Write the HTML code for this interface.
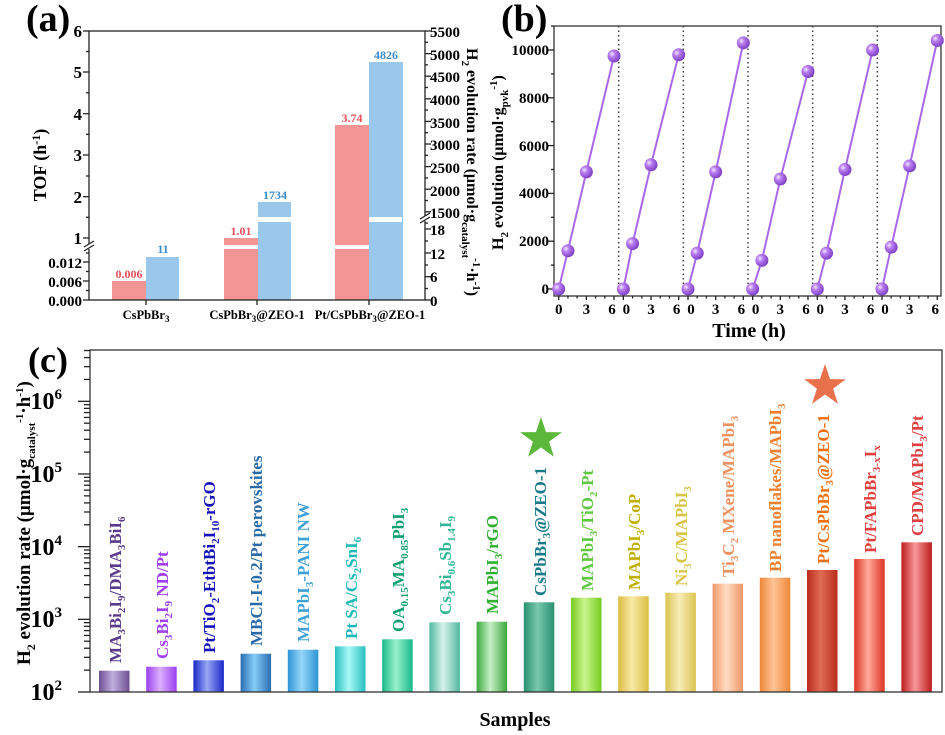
<!DOCTYPE html>
<html><head><meta charset="utf-8"><style>
html,body{margin:0;padding:0;background:#fff;}
svg{display:block;font-family:"Liberation Serif",serif;font-weight:bold;}
</style></head><body>
<svg id="s" width="945" height="735" viewBox="0 0 945 735" xmlns="http://www.w3.org/2000/svg">
<defs id="defs">
<radialGradient id="ball" cx="0.35" cy="0.35" r="0.7"><stop offset="0" stop-color="#f4e6ff"/><stop offset="0.35" stop-color="#b87cf0"/><stop offset="1" stop-color="#7a3cc0"/></radialGradient>
</defs>
<g id="g"></g>
<!-- Panel a text -->
<text x="26" y="31" font-size="38">(a)</text>
<g font-size="17" text-anchor="end">
<text x="82" y="37">6</text><text x="82" y="78">5</text><text x="82" y="120">4</text><text x="82" y="161">3</text><text x="82" y="203">2</text><text x="82" y="244">1</text>
<text x="82" y="268" font-size="15">0.012</text><text x="82" y="287" font-size="15">0.006</text><text x="82" y="306" font-size="15">0.000</text>
</g>
<g font-size="15">
<text x="430" y="37">5500</text><text x="430" y="60">5000</text><text x="430" y="82">4500</text><text x="430" y="105">4000</text><text x="430" y="128">3500</text><text x="430" y="150">3000</text><text x="430" y="173">2500</text><text x="430" y="196">2000</text><text x="430" y="218">1500</text>
<text x="430" y="235">18</text><text x="430" y="259">12</text><text x="430" y="282">6</text><text x="430" y="306">0</text>
</g>
<text transform="translate(46,165) rotate(-90)" font-size="18" text-anchor="middle">TOF (h<tspan font-size="12" dy="-6">-1</tspan><tspan dy="6">)</tspan></text>
<text transform="translate(467,48) rotate(90)" font-size="16">H<tspan font-size="11" dy="5">2</tspan><tspan dy="-5"> evolution rate (μmol·g</tspan><tspan font-size="11" dy="5">catalyst</tspan><tspan font-size="11" dy="-11">-1</tspan><tspan dy="6">·h</tspan><tspan font-size="11" dy="-6">-1</tspan><tspan dy="6">)</tspan></text>
<g font-size="12" text-anchor="middle">
<text x="129" y="278" fill="#e8505a">0.006</text><text x="163" y="253" fill="#3a8ccc">11</text>
<text x="241" y="235" fill="#e8505a">1.01</text><text x="275" y="199" fill="#3a8ccc">1734</text>
<text x="352" y="122" fill="#e8505a">3.74</text><text x="386" y="59" fill="#3a8ccc">4826</text>
</g>
<g font-size="12.5" text-anchor="middle">
<text x="146" y="319">CsPbBr<tspan font-size="9" dy="3">3</tspan></text>
<text x="257" y="319">CsPbBr<tspan font-size="9" dy="3">3</tspan><tspan dy="-3">@ZEO-1</tspan></text>
<text x="370" y="319">Pt/CsPbBr<tspan font-size="9" dy="3">3</tspan><tspan dy="-3">@ZEO-1</tspan></text>
</g>
<!-- Panel b text -->
<text x="501" y="31" font-size="38">(b)</text>
<g font-size="15" text-anchor="end">
<text x="549" y="55">10000</text><text x="549" y="103">8000</text><text x="549" y="151">6000</text><text x="549" y="198">4000</text><text x="549" y="246">2000</text><text x="549" y="294">0</text>
</g>
<g font-size="15" text-anchor="middle" id="bx"></g>
<text x="749" y="337" font-size="20" text-anchor="middle">Time (h)</text>
<text transform="translate(503,250) rotate(-90)" font-size="16">H<tspan font-size="11" dy="5">2</tspan><tspan dy="-5"> evolution (μmol·g</tspan><tspan font-size="11" dy="5">pvk</tspan><tspan font-size="11" dy="-11">-1</tspan><tspan dy="6">)</tspan></text>
<!-- Panel c text -->
<text x="28" y="372" font-size="36">(c)</text>
<g font-size="24" text-anchor="end">
<text x="62" y="700">10<tspan font-size="15" dy="-10">2</tspan></text>
<text x="62" y="627">10<tspan font-size="15" dy="-10">3</tspan></text>
<text x="62" y="555">10<tspan font-size="15" dy="-10">4</tspan></text>
<text x="62" y="482">10<tspan font-size="15" dy="-10">5</tspan></text>
<text x="62" y="409">10<tspan font-size="15" dy="-10">6</tspan></text>
</g>
<text transform="translate(30,665) rotate(-90)" font-size="19">H<tspan font-size="12" dy="5">2</tspan><tspan dy="-5"> evolution rate (μmol·g</tspan><tspan font-size="11" dy="5">catalyst</tspan><tspan font-size="11" dy="-12">-1</tspan><tspan dy="7">·h</tspan><tspan font-size="11" dy="-7">-1</tspan><tspan dy="7">)</tspan></text>
<text x="515" y="726" font-size="20" text-anchor="middle">Samples</text>
<g font-size="17" id="cl">
<text transform="translate(121,663) rotate(-90)" fill="#5a3a8a">MA<tspan font-size="11" dy="4">3</tspan><tspan dy="-4">Bi</tspan><tspan font-size="11" dy="4">2</tspan><tspan dy="-4">I</tspan><tspan font-size="11" dy="4">9</tspan><tspan dy="-4">/DMA</tspan><tspan font-size="11" dy="4">3</tspan><tspan dy="-4">BiI</tspan><tspan font-size="11" dy="4">6</tspan></text>
<text transform="translate(168,659) rotate(-90)" fill="#a040f0">Cs<tspan font-size="11" dy="4">3</tspan><tspan dy="-4">Bi</tspan><tspan font-size="11" dy="4">2</tspan><tspan dy="-4">I</tspan><tspan font-size="11" dy="4">9</tspan><tspan dy="-4"> ND/Pt</tspan></text>
<text transform="translate(215,653) rotate(-90)" fill="#1414b8">Pt/TiO<tspan font-size="11" dy="4">2</tspan><tspan dy="-4">-EtbtBi</tspan><tspan font-size="11" dy="4">2</tspan><tspan dy="-4">I</tspan><tspan font-size="11" dy="4">10</tspan><tspan dy="-4">-rGO</tspan></text>
<text transform="translate(262,646) rotate(-90)" fill="#2a6aa8">MBCl-I-0.2/Pt perovskites</text>
<text transform="translate(309,642) rotate(-90)" fill="#40a0d8">MAPbI<tspan font-size="11" dy="4">3</tspan><tspan dy="-4">-PANI NW</tspan></text>
<text transform="translate(357,639) rotate(-90)" fill="#20b8b8">Pt SA/Cs<tspan font-size="11" dy="4">2</tspan><tspan dy="-4">SnI</tspan><tspan font-size="11" dy="4">6</tspan></text>
<text transform="translate(404,632) rotate(-90)" fill="#10a070">OA<tspan font-size="11" dy="4">0.15</tspan><tspan dy="-4">MA</tspan><tspan font-size="11" dy="4">0.85</tspan><tspan dy="-4">PbI</tspan><tspan font-size="11" dy="4">3</tspan></text>
<text transform="translate(451,615) rotate(-90)" fill="#30b898">Cs<tspan font-size="11" dy="4">3</tspan><tspan dy="-4">Bi</tspan><tspan font-size="11" dy="4">0.6</tspan><tspan dy="-4">Sb</tspan><tspan font-size="11" dy="4">1.4</tspan><tspan dy="-4">I</tspan><tspan font-size="11" dy="4">9</tspan></text>
<text transform="translate(498,614) rotate(-90)" fill="#30b030">MAPbI<tspan font-size="11" dy="4">3</tspan><tspan dy="-4">/rGO</tspan></text>
<text transform="translate(546,596) rotate(-90)" fill="#1a7a8a">CsPbBr<tspan font-size="11" dy="4">3</tspan><tspan dy="-4">@ZEO-1</tspan></text>
<text transform="translate(593,591) rotate(-90)" fill="#60c840">MAPbI<tspan font-size="11" dy="4">3</tspan><tspan dy="-4">/TiO</tspan><tspan font-size="11" dy="4">2</tspan><tspan dy="-4">-Pt</tspan></text>
<text transform="translate(640,590) rotate(-90)" fill="#c0b000">MAPbI<tspan font-size="11" dy="4">3</tspan><tspan dy="-4">/CoP</tspan></text>
<text transform="translate(687,586) rotate(-90)" fill="#d8c448">Ni<tspan font-size="11" dy="4">3</tspan><tspan dy="-4">C/MAPbI</tspan><tspan font-size="11" dy="4">3</tspan></text>
<text transform="translate(734,577) rotate(-90)" fill="#f09060">Ti<tspan font-size="11" dy="4">3</tspan><tspan dy="-4">C</tspan><tspan font-size="11" dy="4">2</tspan><tspan dy="-4"> MXene/MAPbI</tspan><tspan font-size="11" dy="4">3</tspan></text>
<text transform="translate(781,572) rotate(-90)" fill="#f08030">BP nanoflakes/MAPbI<tspan font-size="11" dy="4">3</tspan></text>
<text transform="translate(829,564) rotate(-90)" fill="#f07010">Pt/CsPbBr<tspan font-size="11" dy="4">3</tspan><tspan dy="-4">@ZEO-1</tspan></text>
<text transform="translate(876,553) rotate(-90)" fill="#e04040">Pt/FAPbBr<tspan font-size="11" dy="4">3-x</tspan><tspan dy="-4">I</tspan><tspan font-size="11" dy="4">x</tspan></text>
<text transform="translate(923,536) rotate(-90)" fill="#e04040">CPD/MAPbI<tspan font-size="11" dy="4">3</tspan><tspan dy="-4">/Pt</tspan></text>
</g>
<path d="M0,-22 L5,-6.9 L20.9,-6.8 L8.1,2.6 L12.9,17.8 L0,8.5 L-12.9,17.8 L-8.1,2.6 L-20.9,-6.8 L-5,-6.9 Z" fill="#5cb83a" transform="translate(541,439)"/>
<path d="M0,-22 L5,-6.9 L20.9,-6.8 L8.1,2.6 L12.9,17.8 L0,8.5 L-12.9,17.8 L-8.1,2.6 L-20.9,-6.8 L-5,-6.9 Z" fill="#e8704a" transform="translate(825,386)"/>
</svg>
<script>
var NS="http://www.w3.org/2000/svg",g=document.getElementById("g"),defs=document.getElementById("defs");
function el(t,a,p){var e=document.createElementNS(NS,t);for(var k in a)e.setAttribute(k,a[k]);(p||g).appendChild(e);return e;}
function ln(x1,y1,x2,y2,c,w,d){var a={x1:x1,y1:y1,x2:x2,y2:y2,stroke:c||"#222","stroke-width":w||1.3};if(d)a["stroke-dasharray"]=d;el("line",a);}
// ---- Panel a ----
el("rect",{x:112,y:281,width:34,height:19,fill:"#f29594"});
el("rect",{x:146,y:257,width:33,height:43,fill:"#99c8ec"});
el("rect",{x:224,y:238,width:34,height:62,fill:"#f29594"});
el("rect",{x:258,y:202,width:33,height:98,fill:"#99c8ec"});
el("rect",{x:335,y:125,width:34,height:175,fill:"#f29594"});
el("rect",{x:369,y:62,width:34,height:238,fill:"#99c8ec"});
el("rect",{x:224,y:245,width:34,height:4,fill:"#fff"});
el("rect",{x:335,y:245,width:34,height:4,fill:"#fff"});
el("rect",{x:258,y:217,width:33,height:5,fill:"#fff"});
el("rect",{x:369,y:217,width:33,height:5,fill:"#fff"});
el("rect",{x:89,y:31,width:336,height:269,fill:"none",stroke:"#222","stroke-width":1.3});
el("rect",{x:86,y:244,width:6,height:5,fill:"#fff"});
el("rect",{x:422,y:216,width:6,height:5,fill:"#fff"});
ln(84,247,94,241);ln(84,251,94,245);ln(420,219,430,213);ln(420,223,430,217);
[31,72,113.7,155,196.7,238].forEach(function(y){ln(83,y,89,y);});
[51.5,92.8,134.3,176,217.3].forEach(function(y){ln(86,y,89,y);});
[262,281,300].forEach(function(y){ln(83,y,89,y);});[271.5,290.5,253].forEach(function(y){ln(86,y,89,y);});
for(var i=0;i<=8;i++){var y=31+i*22.6;ln(425,y,431,y);ln(425,y+11.3,428,y+11.3);}
[229,253,276.7,300].forEach(function(y){ln(425,y,431,y);});[241,265,288.5].forEach(function(y){ln(425,y,428,y);});
[146,257,369].forEach(function(x){ln(x,300,x,305);});
// ---- Panel b ----
el("rect",{x:554,y:26,width:387,height:270,fill:"none",stroke:"#333","stroke-width":1.3});
for(var v=0;v<=11000;v+=1000){var y=289-v*0.0239;if(y<26)break;ln(554-(v%2000?3:6),y,554,y);}
var data=[[0,1600,4900,9750],[0,1900,5200,9800],[0,1500,4900,10300],[0,1200,4600,9100],[0,1500,5000,10000],[0,1750,5150,10400]];
var ts=[0,1,3,6],bx=document.getElementById("bx");
for(var k=0;k<6;k++){var x0=558.7+64.65*k;
 if(k<5)ln(618.7+64.65*k,26,618.7+64.65*k,296,"#444",1.5,"1.5,3");
 [0,3,6].forEach(function(t){var x=x0+9.22*t;ln(x,296,x,300);var tx=el("text",{x:(t==6?x-2:(t==0&&k>0?x+3:x)),y:314},bx);tx.textContent=t;});
 for(var t=1;t<6;t++)if(t!=3)ln(x0+9.22*t,296,x0+9.22*t,298.5);
 var pts=data[k].map(function(v,i){return [x0+9.22*ts[i],289-v*0.0239];});
 el("polyline",{points:pts.map(function(p){return p.join(",");}).join(" "),fill:"none",stroke:"#a868e8","stroke-width":2});
 pts.forEach(function(p){el("circle",{cx:p[0],cy:p[1],r:6.5,fill:"url(#ball)"});});
}
// ---- Panel c ----
var cols=[["#6e5090","#c0aee0"],["#9a40f0","#dcb0ff"],["#1a28c8","#98a6f4"],["#2a6cb0","#84cef8"],["#2e94d4","#94d6fa"],["#28c0c0","#aaf8f8"],["#18b888","#98f0cc"],["#50b8a0","#d6f2ea"],["#3aa83a","#c8f0c8"],["#2a9070","#78c8ac"],["#78cc20","#c8f48c"],["#dcbc40","#f8eaa8"],["#dcc450","#f8ecb8"],["#f09868","#ffdcc4"],["#ee8838","#ffc496"],["#b82c1c","#e06c54"],["#dc3424","#ffaa9a"],["#bc1c1c","#f89898"]];
var tops=[670.7,666.7,660.3,653.7,649.7,646.3,639.3,622.3,621.7,602.3,597.7,596.3,592.7,583.7,577.7,570,559,542.3];
for(var i=0;i<18;i++){
 var gr=el("linearGradient",{id:"b"+i,x1:0,x2:1,y1:0,y2:0},defs);
 el("stop",{offset:0,"stop-color":cols[i][0]},gr);el("stop",{offset:0.45,"stop-color":cols[i][1]},gr);el("stop",{offset:1,"stop-color":cols[i][0]},gr);
 el("rect",{x:99+47.2*i,y:tops[i],width:30.5,height:692-tops[i],fill:"url(#b"+i+")"});
}
el("rect",{x:90,y:350,width:852,height:342,fill:"none",stroke:"#333","stroke-width":1.3});
for(var d=0;d<5;d++){var y0=692-72.67*d;ln(78,y0,90,y0);
 for(var m=2;m<10;m++){var y=y0-72.67*Math.log10(m);if(y>=350)ln(84,y,90,y);}}
</script>
</body></html>
